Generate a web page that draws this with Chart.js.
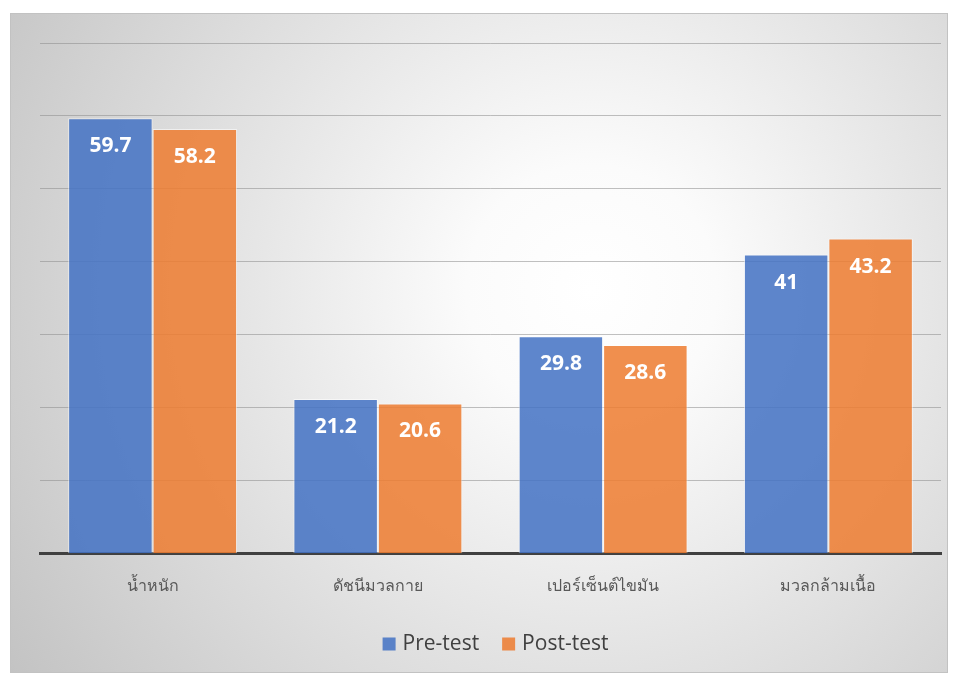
<!DOCTYPE html>
<html lang="th">
<head>
<meta charset="UTF-8">
<title>Pre-test / Post-test</title>
<script src="https://cdn.jsdelivr.net/npm/chart.js"></script>
<style>
    body { margin: 0; background: #fff; }
    #panel {
        position: absolute; left: 10px; top: 13px; width: 938px; height: 660px;
        background: radial-gradient(circle farthest-corner at 62% 42%, #ffffff 0%, #fbfbfb 18%, #c3c3c3 100%);
        box-shadow: inset 0 0 0 1px #c2c2c2;
    }
</style>
</head>
<body>
<div id="panel"><canvas id="chart" width="938" height="660"></canvas></div>
<script>
const categories = ['น้ำหนัก', 'ดัชนีมวลกาย', 'เปอร์เซ็นต์ไขมัน', 'มวลกล้ามเนื้อ'];
const preTest = [59.7, 21.2, 29.8, 41];
const postTest = [58.2, 20.6, 28.6, 43.2];

// white value labels inside the top of each bar
const barLabels = {
    id: 'barLabels',
    afterDatasetsDraw(chart) {
        const ctx = chart.ctx;
        ctx.save();
        ctx.fillStyle = '#ffffff';
        ctx.font = 'bold 21px "Open Sans", "Noto Sans", sans-serif';
        ctx.textAlign = 'center';
        ctx.textBaseline = 'middle';
        chart.data.datasets.forEach((ds, i) => {
            chart.getDatasetMeta(i).data.forEach((bar, j) => {
                ctx.fillText(String(ds.data[j]), bar.x, bar.y + 28);
            });
        });
        ctx.restore();
    }
};

// legend drawn by hand (square markers, centred under the plot)
const bottomLegend = {
    id: 'bottomLegend',
    afterDraw(chart) {
        const ctx = chart.ctx;
        const box = 13, boxGap = 7, itemGap = 23;
        ctx.save();
        ctx.font = '21px "Open Sans", "Noto Sans", sans-serif';
        ctx.textBaseline = 'middle';
        const items = chart.data.datasets.map(ds => ({
            text: ds.label, color: ds.backgroundColor, w: ctx.measureText(ds.label).width
        }));
        let total = 0;
        items.forEach((it, i) => { total += box + boxGap + it.w + (i ? itemGap : 0); });
        const area = chart.chartArea;
        let x = (area.left + area.right) / 2 - total / 2 + 5;
        const y = chart.height - 29;
        items.forEach(it => {
            ctx.fillStyle = it.color;
            ctx.fillRect(x, y - box / 2, box, box);
            ctx.fillStyle = '#404040';
            ctx.fillText(it.text, x + box + boxGap, y);
            x += box + boxGap + it.w + itemGap;
        });
        ctx.restore();
    }
};

new Chart(document.getElementById('chart'), {
    type: 'bar',
    data: {
        labels: categories,
        datasets: [{
            label: 'Pre-test',
            data: preTest,
            backgroundColor: 'rgba(68,114,196,0.86)',
            borderColor: 'rgba(255,255,255,0.55)',
            borderWidth: 1
        }, {
            label: 'Post-test',
            data: postTest,
            backgroundColor: 'rgba(237,125,49,0.86)',
            borderColor: 'rgba(255,255,255,0.55)',
            borderWidth: 1
        }]
    },
    options: {
        responsive: false,
        animation: false,
        layout: { padding: { left: 30, right: 7, top: 30, bottom: 62 } },
        datasets: { bar: { categoryPercentage: 0.75, barPercentage: 1 } },
        scales: {
            x: {
                grid: { display: false },
                border: { color: '#404040', width: 3 },
                ticks: {
                    color: '#595959',
                    padding: 15,
                    font: { family: '"Noto Sans", "Open Sans", sans-serif', size: 16 }
                }
            },
            y: {
                min: 0, max: 70,
                ticks: { display: false, stepSize: 10 },
                border: { display: false },
                grid: { color: 'rgba(140,140,140,0.55)', lineWidth: 1, drawTicks: false }
            }
        },
        plugins: {
            legend: { display: false },
            tooltip: { enabled: false }
        }
    },
    plugins: [barLabels, bottomLegend]
});
</script>
</body>
</html>
